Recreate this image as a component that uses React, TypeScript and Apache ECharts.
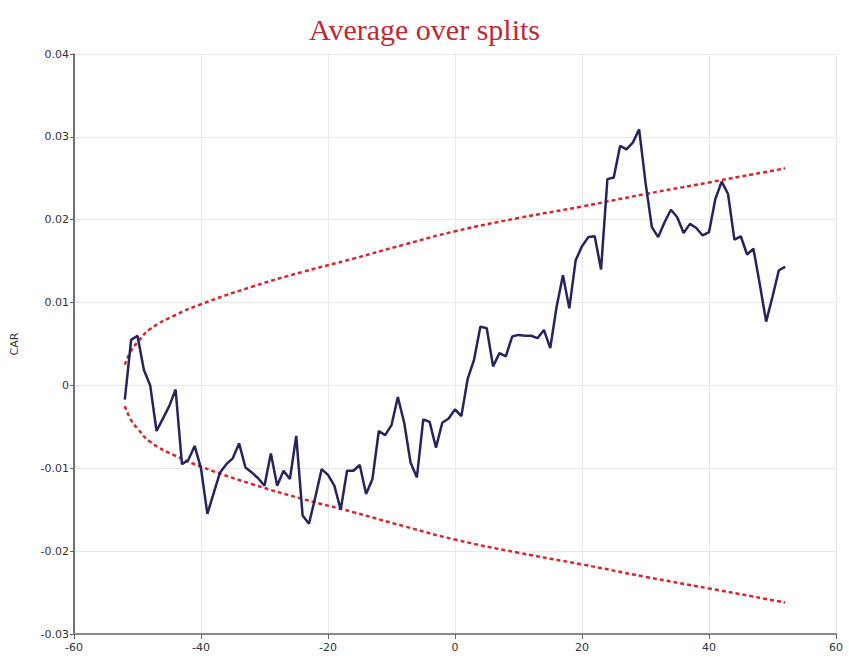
import React, { useEffect, useRef } from "react";
import * as echarts from "echarts";

const eventDays: number[] = [];
for (let d = -52; d <= 52; d++) eventDays.push(d);

const carValues = [
  -0.0017, 0.0055, 0.006, 0.0019, 0.0, -0.0055, -0.004, -0.0025, -0.0005, -0.0095,
  -0.009, -0.0073, -0.01, -0.0155, -0.013, -0.0105, -0.0095, -0.0088, -0.007, -0.0099,
  -0.0105, -0.0112, -0.0121, -0.0082, -0.0121, -0.0103, -0.0113, -0.0061, -0.0157, -0.0167,
  -0.0135, -0.0101, -0.0108, -0.0121, -0.015, -0.0103, -0.0103, -0.0096, -0.0131, -0.0113,
  -0.0055, -0.006, -0.0048, -0.0014, -0.0045, -0.0093, -0.0111, -0.0041, -0.0044, -0.0075,
  -0.0045, -0.004, -0.0029, -0.0037, 0.0008, 0.0031, 0.0071, 0.0069, 0.0023, 0.0039,
  0.0035, 0.0059, 0.0061, 0.006, 0.006, 0.0057, 0.0067, 0.0045, 0.0095, 0.0133,
  0.0093, 0.0151, 0.0168, 0.0179, 0.018, 0.014, 0.0249, 0.0251, 0.0289, 0.0285,
  0.0293, 0.0309, 0.0245, 0.0191, 0.0179, 0.0197, 0.0212, 0.0203, 0.0184, 0.0195,
  0.019, 0.0181, 0.0185, 0.0225, 0.0246, 0.0231, 0.0176, 0.018, 0.0158, 0.0165,
  0.0122, 0.0077, 0.0107, 0.0139, 0.0143,
];

const bandDays = [-52, -51, -50, -48, -44, -40, -32, -24, -16, -8, 0, 10, 20, 30, 40, 52];
const upperBand = [0.0025, 0.0042, 0.0052, 0.0068, 0.0085, 0.0098, 0.0119, 0.0137, 0.0153, 0.017, 0.0186, 0.0202, 0.0216, 0.0231, 0.0245, 0.0262];
const lowerBand = [-0.0025, -0.0042, -0.0052, -0.0068, -0.0085, -0.0098, -0.0119, -0.0137, -0.0153, -0.017, -0.0186, -0.0202, -0.0216, -0.0231, -0.0245, -0.0262];

const titleText = "Average over splits";
const yAxisName = "CAR";

export default function App() {
  const ref = useRef<HTMLDivElement>(null);
  useEffect(() => {
    if (!ref.current) return;
    const chart = echarts.init(ref.current, undefined, { renderer: "svg" });
    const bandStyle = { color: "#d8262c", width: 2.5, type: [4, 3] as any };
    chart.setOption({
      animation: false,
      backgroundColor: "#ffffff",
      title: {
        text: titleText,
        left: "center",
        top: 9,
        textStyle: {
          fontFamily: "Liberation Serif",
          fontSize: 30,
          fontWeight: "normal",
          color: "#bf2a30",
        },
      },
      grid: { left: 74, right: 13, top: 54, bottom: 26, containLabel: false },
      xAxis: {
        type: "value",
        min: -60,
        max: 60,
        interval: 20,
        axisLine: { show: true, onZero: false, lineStyle: { color: "#8a8a8a", width: 2 } },
        axisTick: { show: true, length: 5, lineStyle: { color: "#666" } },
        axisLabel: { color: "#333", fontSize: 11, fontFamily: "DejaVu Sans", margin: 8 },
        splitLine: { show: true, lineStyle: { color: "#e8e8e8", width: 1 } },
      },
      yAxis: {
        type: "value",
        min: -0.03,
        max: 0.04,
        interval: 0.01,
        name: yAxisName,
        nameLocation: "middle",
        nameRotate: 90,
        nameGap: 54,
        nameTextStyle: { color: "#333", fontSize: 11, fontFamily: "DejaVu Sans" },
        axisLine: { show: true, onZero: false, lineStyle: { color: "#444", width: 1.5 } },
        axisTick: { show: true, length: 4, lineStyle: { color: "#666" } },
        axisLabel: {
          color: "#333",
          fontSize: 11,
          fontFamily: "DejaVu Sans",
          margin: 5,
          formatter: (v: number) => String(Number(v.toFixed(2))),
        },
        splitLine: { show: true, lineStyle: { color: "#e8e8e8", width: 1 } },
      },
      series: [
        {
          type: "line",
          data: bandDays.map((d, i) => [d, upperBand[i]]),
          smooth: true,
          showSymbol: false,
          lineStyle: bandStyle,
          z: 2,
        },
        {
          type: "line",
          data: bandDays.map((d, i) => [d, lowerBand[i]]),
          smooth: true,
          showSymbol: false,
          lineStyle: bandStyle,
          z: 2,
        },
        {
          type: "line",
          data: eventDays.map((d, i) => [d, carValues[i]]),
          showSymbol: false,
          lineStyle: { color: "#25245e", width: 2.5 },
          z: 3,
        },
      ],
    });
    return () => chart.dispose();
  }, []);
  return (
    <div
      ref={ref}
      style={{ position: "fixed", left: 0, top: 0, width: 849, height: 660 }}
    />
  );
}
